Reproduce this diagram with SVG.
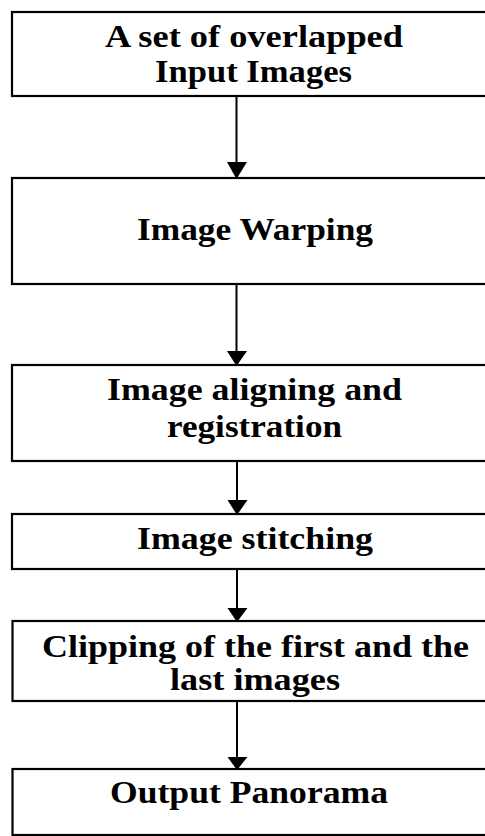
<svg xmlns="http://www.w3.org/2000/svg" width="485" height="836" viewBox="0 0 485 836">
<style>
.box{fill:#fff;stroke:#000;stroke-width:2.2}
.t{font-family:"Liberation Serif","Times New Roman",serif;font-weight:bold;font-size:31px;fill:#000}
.c{stroke:#000;stroke-width:2}
</style>
<defs>
<marker id="ah" markerWidth="10" markerHeight="8.5" refX="10" refY="4.25" orient="auto" markerUnits="userSpaceOnUse" viewBox="0 0 10 8.5">
<path d="M0,0 L10,4.25 L0,8.5 Z" fill="#000"/>
</marker>
</defs>
<rect width="485" height="836" fill="#fff"/>
<g id="n1"><rect class="box" x="12" y="12" width="480" height="84"/>
<text class="t" x="105" y="47" textLength="298" lengthAdjust="spacingAndGlyphs">A set of overlapped</text>
<text class="t" x="155" y="82" textLength="197" lengthAdjust="spacingAndGlyphs">Input Images</text></g>
<g id="n2"><rect class="box" x="12" y="178" width="480" height="106"/>
<text class="t" x="137" y="240" textLength="236" lengthAdjust="spacingAndGlyphs">Image Warping</text></g>
<g id="n3"><rect class="box" x="12" y="365" width="480" height="96"/>
<text class="t" x="107" y="400" textLength="295" lengthAdjust="spacingAndGlyphs">Image aligning and</text>
<text class="t" x="167" y="437" textLength="175" lengthAdjust="spacingAndGlyphs">registration</text></g>
<g id="n4"><rect class="box" x="12" y="514" width="480" height="55"/>
<text class="t" x="137" y="549" textLength="236" lengthAdjust="spacingAndGlyphs">Image stitching</text></g>
<g id="n5"><rect class="box" x="12.5" y="621" width="480" height="80"/>
<text class="t" x="42" y="657" textLength="427" lengthAdjust="spacingAndGlyphs">Clipping of the first and the</text>
<text class="t" x="170" y="690" textLength="170" lengthAdjust="spacingAndGlyphs">last images</text></g>
<g id="n6"><rect class="box" x="12.5" y="769" width="480" height="66"/>
<text class="t" x="110" y="803" textLength="278" lengthAdjust="spacingAndGlyphs">Output Panorama</text></g>
<g id="connectors">
<line class="c" x1="236.5" y1="97" x2="236.5" y2="163"/>
<path d="M227,162 L247,162 L236.5,179 Z"/>
<line class="c" x1="236.5" y1="285" x2="236.5" y2="352"/>
<path d="M227,351 L247,351 L236.5,366 Z"/>
<line class="c" x1="237" y1="462" x2="237" y2="501"/>
<path d="M227.5,500 L247.5,500 L237,515 Z"/>
<line class="c" x1="237" y1="570" x2="237" y2="609"/>
<path d="M227.5,608 L247.5,608 L237,622 Z"/>
<line class="c" x1="237" y1="702" x2="237" y2="758"/>
<path d="M227.5,757 L247.5,757 L237,770 Z"/>
</g>
</svg>
